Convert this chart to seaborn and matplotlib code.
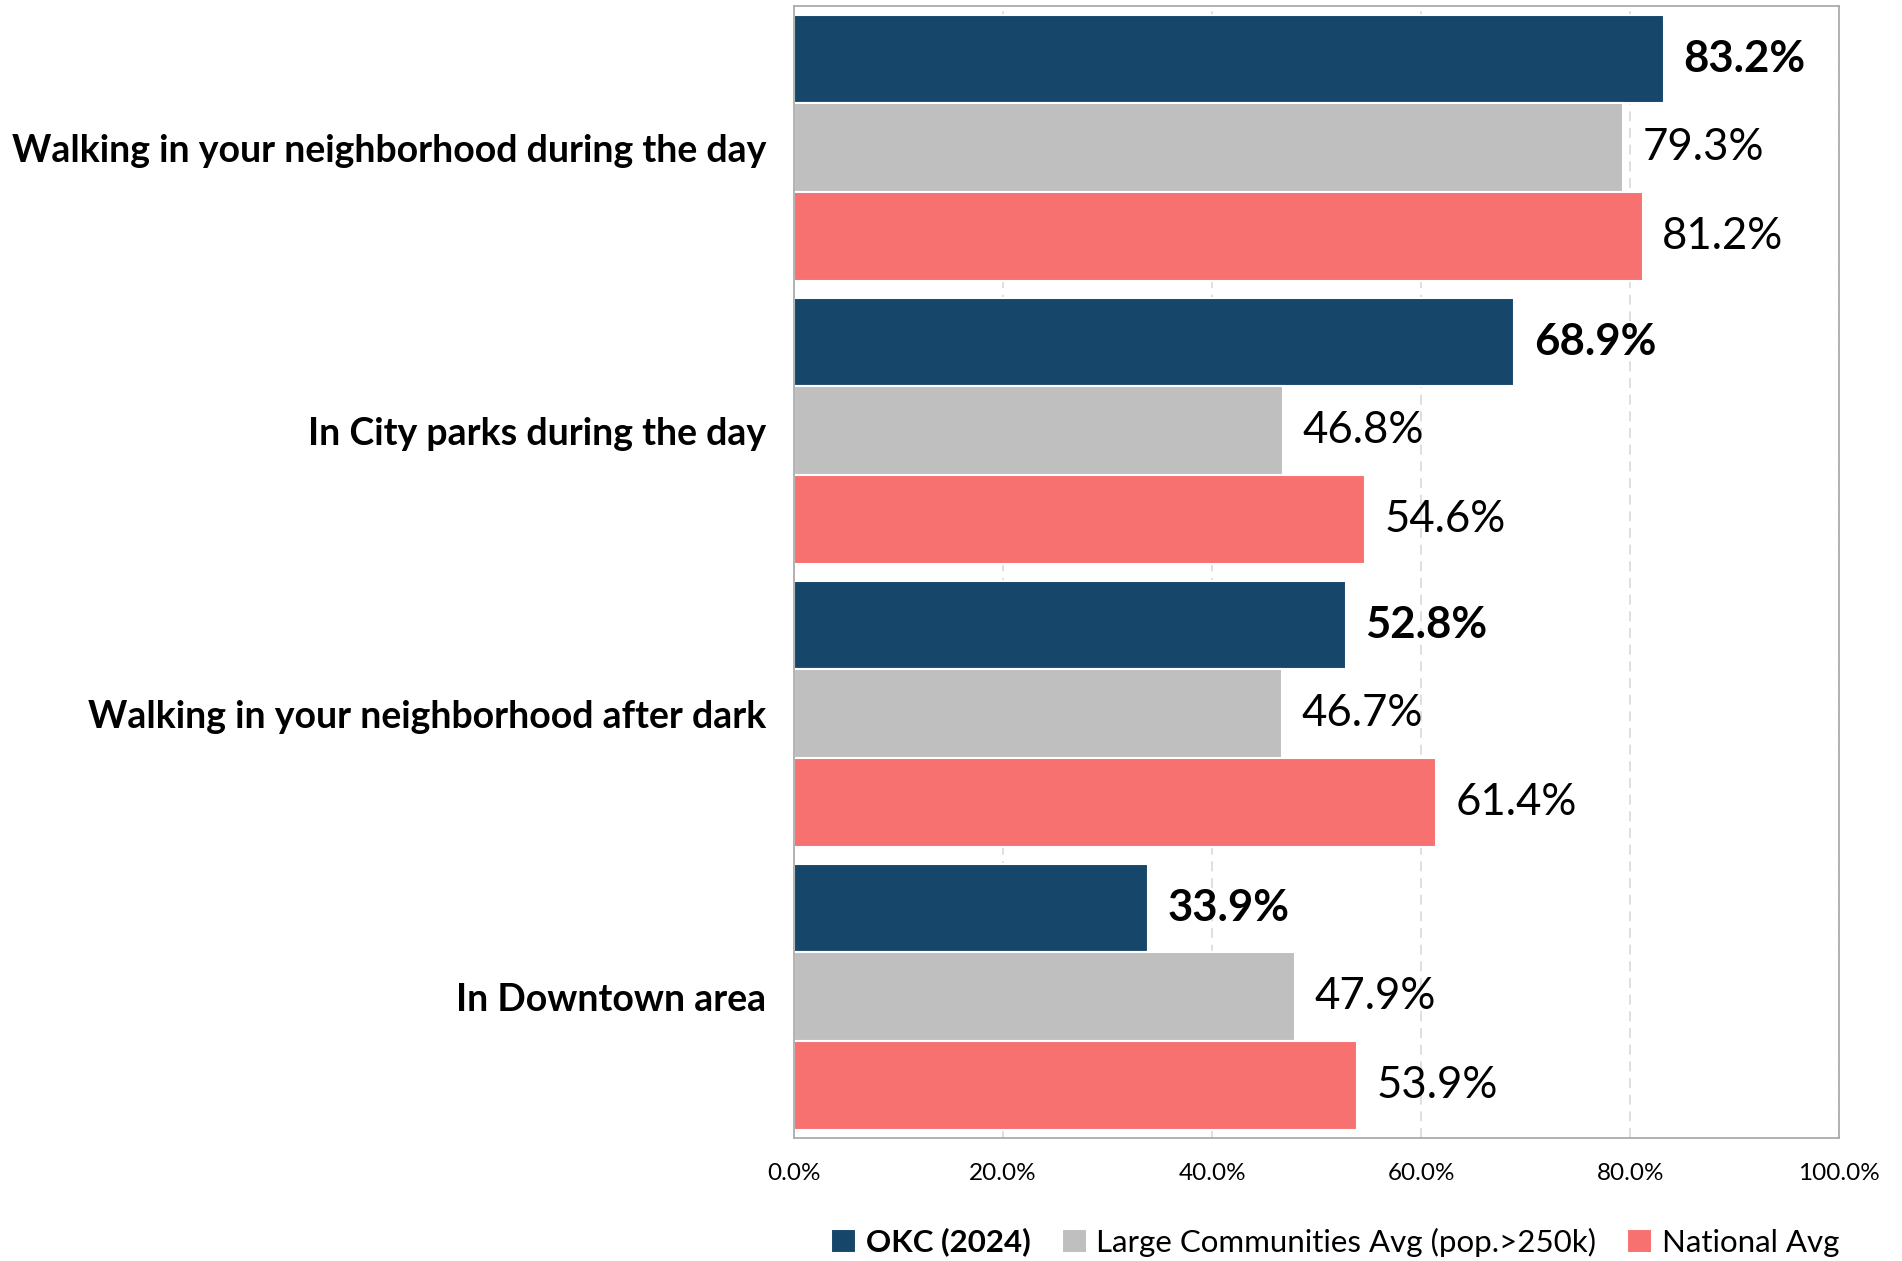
import pandas as pd
import seaborn as sns
import matplotlib.pyplot as plt
from matplotlib.ticker import FuncFormatter

# Chart data
categories = [
    "Walking in your neighborhood during the day",
    "In City parks during the day",
    "Walking in your neighborhood after dark",
    "In Downtown area",
]
series_names = ["OKC (2024)", "Large Communities Avg (pop.>250k)", "National Avg"]
okc_values = [83.2, 68.9, 52.8, 33.9]
large_values = [79.3, 46.8, 46.7, 47.9]
national_values = [81.2, 54.6, 61.4, 53.9]
x_ticks = [0, 20, 40, 60, 80, 100]

colors = ["#16466A", "#BFBFBF", "#F77171"]


def create_chart():
    rows = []
    for name, vals in zip(series_names, [okc_values, large_values, national_values]):
        for cat, v in zip(categories, vals):
            rows.append({"category": cat, "series": name, "value": v})
    df = pd.DataFrame(rows)

    sns.set_style("white")
    plt.rcParams["font.family"] = ["Lato", "DejaVu Sans"]
    plt.rcParams["text.color"] = "black"
    plt.rcParams["xtick.color"] = "black"
    plt.rcParams["ytick.color"] = "black"

    fig, ax = plt.subplots(figsize=(19.02, 12.61), dpi=100)
    fig.subplots_adjust(left=0.4175, right=0.967, top=0.995, bottom=0.0975)

    sns.barplot(data=df, y="category", x="value", hue="series", order=categories,
                hue_order=series_names, palette=colors, saturation=1, orient="h", width=0.94,
                edgecolor="white", linewidth=1.5, ax=ax)

    # value labels
    for i, container in enumerate(ax.containers):
        labels = [f"{v:.1f}%" for v in container.datavalues]
        ax.bar_label(container, labels=labels, padding=14, fontsize=31.5,
                     fontweight="bold" if i == 0 else "normal", color="black")

    ax.set_xlim(0, 100)
    ax.set_xticks(x_ticks)
    ax.xaxis.set_major_formatter(FuncFormatter(lambda v, p: f"{v:.1f}%"))
    ax.grid(axis="x", color="#D9D9D9", linestyle=(0, (6, 4)), linewidth=1.2)
    ax.set_axisbelow(True)
    for s in ax.spines.values():
        s.set_color("#A6A6A6")
        s.set_linewidth(1.2)

    ax.tick_params(axis="x", length=0, pad=18, labelsize=17.5, labelcolor="black")
    ax.tick_params(axis="y", length=0, pad=20, labelsize=27, labelcolor="black")
    for lbl in ax.get_yticklabels():
        lbl.set_fontweight("bold")
    ax.set_xlabel("")
    ax.set_ylabel("")

    leg = ax.legend(loc="upper right", bbox_to_anchor=(1.012, -0.068), ncol=3, frameon=False,
                    fontsize=22.5, handlelength=0.8, handleheight=0.8, handletextpad=0.3,
                    columnspacing=1.0, borderaxespad=0)
    for t in leg.get_texts():
        t.set_color("black")
    leg.get_texts()[0].set_fontweight("bold")

    plt.savefig("out.png", dpi=100)


if __name__ == "__main__":
    create_chart()
